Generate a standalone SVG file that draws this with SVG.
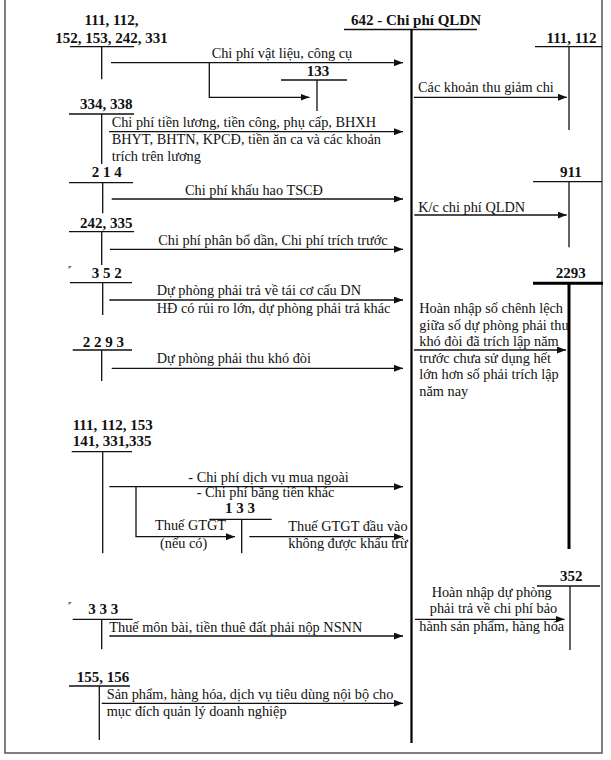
<svg xmlns="http://www.w3.org/2000/svg" width="611" height="760" viewBox="0 0 611 760">
<style>
.t{font-family:"Liberation Serif","Times New Roman",serif;font-size:14.3px;fill:#111}
.b{font-family:"Liberation Serif","Times New Roman",serif;font-size:15px;font-weight:bold;fill:#111}
.ln{stroke:#111;stroke-width:1.3;fill:none}
.thick{stroke:#000;stroke-width:3;fill:none}
.ar{stroke:#111;stroke-width:1.3;fill:none;marker-end:url(#ah)}
.mk{fill:#3a8a3a}
</style>
<defs>
<marker id="ah" markerUnits="userSpaceOnUse" markerWidth="9" markerHeight="7" refX="9" refY="3.5" orient="auto">
<path d="M0,0 L9,3.5 L0,7 z" fill="#111"/>
</marker>
</defs>
<rect x="0" y="0" width="611" height="760" fill="#fff"/>
<rect x="5" y="-5" width="597" height="758" fill="none" stroke="#555" stroke-width="1.5"/>

<g id="acc642">
<text class="b" x="416" y="25" text-anchor="middle">642 - Chi phí QLDN</text>
<path class="ln" d="M344,29.5 H477"/>
<path d="M411.5,29.5 V743" stroke="#000" stroke-width="2.2" fill="none"/>
</g>
<g id="acc111_112_152">
<text class="b" x="111.5" y="25" text-anchor="middle">111, 112,</text>
<text class="b" x="111.5" y="42.5" text-anchor="middle">152, 153, 242, 331</text>
<path class="ln" d="M70,46.7 H134 M101.7,46.7 V79.3"/>
</g>
<g id="acc133a">
<text class="b" x="318" y="76" text-anchor="middle">133</text>
<path class="ln" d="M281,80 H347 M317,80 V111"/>
</g>
<g id="acc111_112_right">
<text class="b" x="571.5" y="42.5" text-anchor="middle">111, 112</text>
<path class="ln" d="M535,46.7 H602 M569,46.7 V130"/>
</g>
<g id="acc334_338">
<text class="b" x="80" y="108.5">334, 338</text>
<path class="ln" d="M69,114 H134 M101.7,114 V164"/>
</g>
<g id="acc214">
<text class="b" x="91.7" y="177.3">2 1 4</text>
<path class="ln" d="M69,182.7 H133 M102.7,182.7 V213.3"/>
</g>
<g id="acc911">
<text class="b" x="560" y="176.7">911</text>
<path class="ln" d="M533,181.7 H602 M569,181.7 V247.3"/>
</g>
<g id="acc242_335">
<text class="b" x="80" y="228.3">242, 335</text>
<path class="ln" d="M69,231.7 H134 M101.7,231.7 V265"/>
</g>
<g id="acc352a">
<path class="mk" d="M68.5,269 L68.5,266 L72,266 z"/>
<text class="b" x="91.7" y="278.3">3 5 2</text>
<path class="ln" d="M70,282.7 H132 M102.7,282.7 V315"/>
</g>
<g id="acc2293a">
<text class="b" x="82.7" y="347.3">2 2 9 3</text>
<path class="ln" d="M72.7,350 H132 M101.7,350 V381"/>
</g>
<g id="acc2293b">
<text class="b" x="555.7" y="278.3">2293</text>
<path class="thick" d="M533,283.3 H603 M569,283.3 V549"/>
</g>
<g id="acc111_112_153">
<text class="b" x="72.7" y="430">111, 112, 153</text>
<text class="b" x="72.7" y="446">141, 331,335</text>
<path class="ln" d="M71.7,451.7 H132 M102.7,451.7 V553.3"/>
</g>
<g id="acc133b">
<text class="b" x="225" y="512.7">1 3 3</text>
<path class="ln" d="M209.3,519.3 H271.7 M241.7,519.3 V553.3"/>
</g>
<g id="acc352b">
<text class="b" x="560" y="580.7">352</text>
<path class="ln" d="M537,586 H600 M570,586 V650"/>
</g>
<g id="acc333">
<path class="mk" d="M68.5,605 L68.5,602 L72,602 z"/>
<text class="b" x="88.3" y="614">3 3 3</text>
<path class="ln" d="M72.7,619.3 H132.7 M101.7,619.3 V649.3"/>
</g>
<g id="acc155_156">
<text class="b" x="76.7" y="681.7">155, 156</text>
<path class="ln" d="M69,686 H130 M99.3,686 V740"/>
</g>

<g id="connectors">
<path class="ar" d="M111,62.7 H403"/>
<text class="t" x="211.7" y="58">Chi phí vật liệu, công cụ</text>
<path class="ar" d="M209.3,62.7 V97.3 H309.5"/>
<path class="ar" d="M414,97.3 H567"/>
<text class="t" x="418" y="92">Các khoản thu giảm chi</text>
<path class="ar" d="M109,131.7 H403"/>
<text class="t" x="111.7" y="127">Chi phí tiền lương, tiền công, phụ cấp, BHXH</text>
<text class="t" x="111.7" y="144.3">BHYT, BHTN, KPCĐ, tiền ăn ca và các khoản</text>
<text class="t" x="111.7" y="161">trích trên lương</text>
<path class="ar" d="M111.7,199 H403"/>
<text class="t" x="185" y="195">Chi phí khấu hao TSCĐ</text>
<path class="ar" d="M414.3,215 H566.7"/>
<text class="t" x="418.3" y="211.5">K/c chi phí QLDN</text>
<path class="ar" d="M110,249.3 H403"/>
<text class="t" x="158.3" y="245">Chi phí phân bổ dần, Chi phí trích trước</text>
<path class="ar" d="M109.3,300 H403"/>
<text class="t" x="156.7" y="295">Dự phòng phải trả về tái cơ cấu DN</text>
<text class="t" x="156.7" y="313.3">HĐ có rủi ro lớn, dự phòng phải trả khác</text>
<path class="ar" d="M414,350 H566"/>
<text class="t" x="419.3" y="313.3">Hoàn nhập số chênh lệch</text>
<text class="t" x="419.3" y="329.8">giữa số dự phòng phải thu</text>
<text class="t" x="419.3" y="346.3">khó đòi đã trích lập năm</text>
<text class="t" x="419.3" y="362.8">trước chưa sử dụng hết</text>
<text class="t" x="419.3" y="379.3">lớn hơn số phải trích lập</text>
<text class="t" x="419.3" y="395.8">năm nay</text>
<path class="ar" d="M111.7,368.3 H403"/>
<text class="t" x="156.7" y="362.7">Dự phòng phải thu khó đòi</text>
<path class="ar" d="M109.3,486.7 H403"/>
<text class="t" x="188.3" y="481.7">- Chi phí dịch vụ mua ngoài</text>
<text class="t" x="196.7" y="497.3">- Chi phí bằng tiền khác</text>
<path class="ar" d="M136,486.7 V536.7 H235"/>
<text class="t" x="155" y="530">Thuế GTGT</text>
<text class="t" x="160" y="547.7">(nếu có)</text>
<path class="ar" d="M249.3,536.7 H403"/>
<text class="t" x="288.3" y="530.7">Thuế GTGT đầu vào</text>
<text class="t" x="288.3" y="548.3">không được khấu trừ</text>
<path class="ar" d="M415,619.3 H564.5"/>
<text class="t" x="491.7" y="596.7" text-anchor="middle">Hoàn nhập dự phòng</text>
<text class="t" x="493.5" y="613.3" text-anchor="middle">phải trả về chi phí bảo</text>
<text class="t" x="491.7" y="630.7" text-anchor="middle">hành sản phẩm, hàng hóa</text>
<path class="ar" d="M109.3,636 H403"/>
<text class="t" x="109.3" y="631.7">Thuế môn bài, tiền thuê đất phải nộp NSNN</text>
<path class="ar" d="M101.7,703.3 H403"/>
<text class="t" x="106.7" y="699.3">Sản phẩm, hàng hóa, dịch vụ tiêu dùng nội bộ cho</text>
<text class="t" x="106.7" y="716">mục đích quản lý doanh nghiệp</text>
</g>
</svg>
